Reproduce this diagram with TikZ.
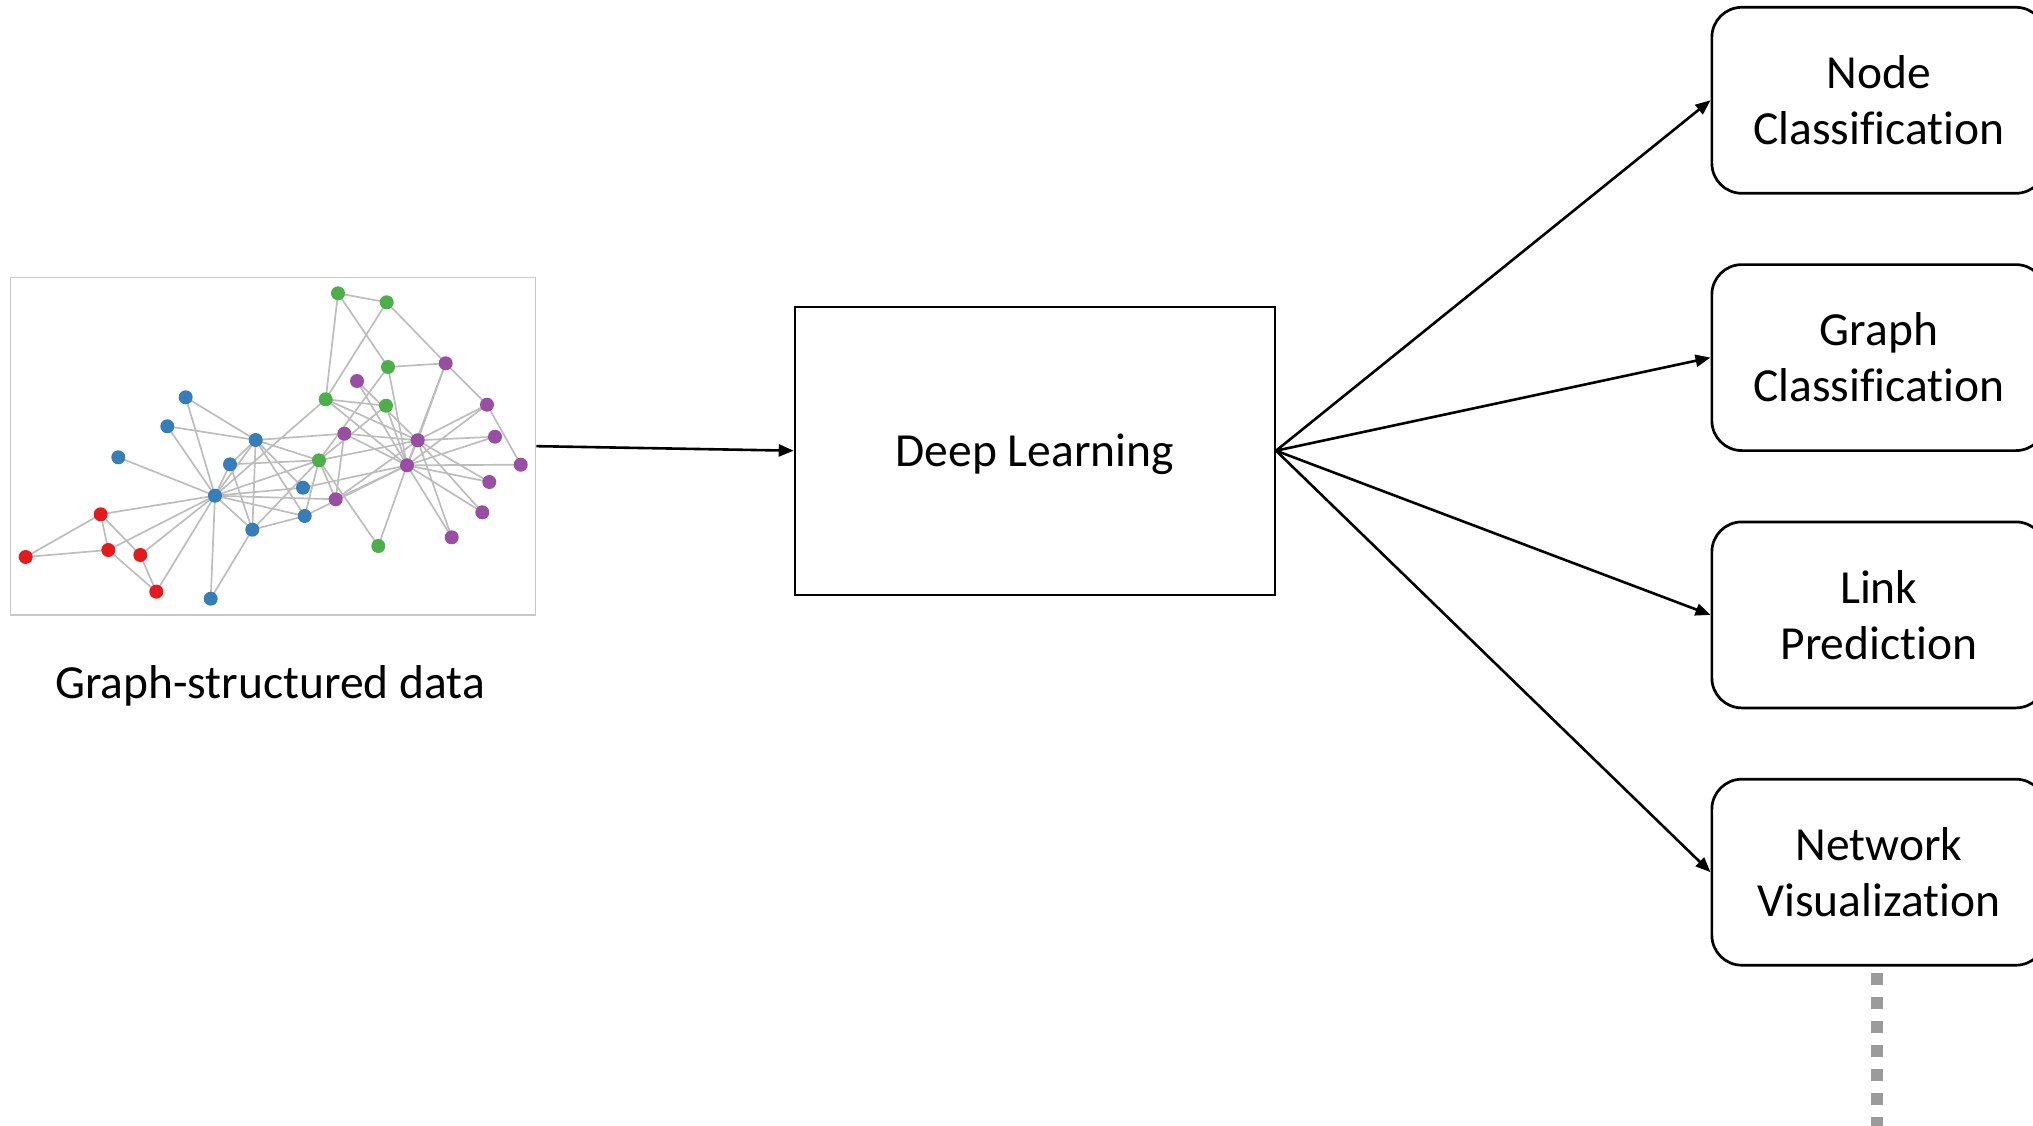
\documentclass[tikz,border=0pt]{standalone}
\usepackage{fontspec}
\setmainfont{Carlito}[Ligatures=NoCommon]
\usetikzlibrary{arrows.meta}
\definecolor{cblue}{HTML}{377EB8}
\definecolor{cred}{HTML}{E41A1C}
\definecolor{cgreen}{HTML}{4DAF4A}
\definecolor{cpurple}{HTML}{984EA3}
\definecolor{edgegray}{HTML}{BDBDBD}
\definecolor{framegray}{HTML}{C8C8C8}
\definecolor{dotgray}{HTML}{9B9B9B}
\tikzset{
  vtx/.style={circle, inner sep=0pt, minimum size=14pt},
  vb/.style={vtx, fill=cblue},
  vr/.style={vtx, fill=cred},
  vg/.style={vtx, fill=cgreen},
  vp/.style={vtx, fill=cpurple},
  gedge/.style={draw=edgegray, line width=1.7pt},
  bigtext/.style={font=\fontsize{47.5}{56}\selectfont},
  dlbox/.style={draw, line width=2.3pt, minimum width=480pt, minimum height=288pt,
                text height=31pt, text depth=0pt, bigtext},
  taskbox/.style={draw, line width=2.7pt, rounded corners=30pt, minimum width=334pt,
                  minimum height=186pt, align=center, bigtext},
  flow/.style={line width=2.6pt, -{Triangle[length=15pt,width=12pt]}},
}
\begin{document}
\begin{tikzpicture}[x=1pt, y=-1pt]
\useasboundingbox (0,0) rectangle (2033,1126);

% frame around the karate club graph
\node[draw=framegray, line width=1.3pt, minimum width=525pt, minimum height=337.7pt, inner sep=0pt]
  (graphbox) at (273.2,446.15) {};

% vertex positions
\coordinate (p0) at (215,495.7);
\coordinate (p1) at (255.7,440);
\coordinate (p2) at (319,460.3);
\coordinate (p3) at (252.3,529.7);
\coordinate (p4) at (140.3,555);
\coordinate (p5) at (108.3,550);
\coordinate (p6) at (100.7,514.3);
\coordinate (p7) at (230,464.3);
\coordinate (p8) at (335.7,499.3);
\coordinate (p9) at (378.3,546);
\coordinate (p10) at (156.3,591.7);
\coordinate (p11) at (118.3,457.3);
\coordinate (p12) at (210.7,598.7);
\coordinate (p13) at (304.7,516);
\coordinate (p14) at (357,381);
\coordinate (p15) at (495,436.7);
\coordinate (p16) at (25.7,557);
\coordinate (p17) at (185.7,397.3);
\coordinate (p18) at (489.3,482);
\coordinate (p19) at (303,487.7);
\coordinate (p20) at (482.3,512.3);
\coordinate (p21) at (167.3,426.3);
\coordinate (p22) at (451.7,537.3);
\coordinate (p23) at (445.7,363.3);
\coordinate (p24) at (338,293.3);
\coordinate (p25) at (386.7,302.3);
\coordinate (p26) at (520.7,464.7);
\coordinate (p27) at (388,367);
\coordinate (p28) at (386,405.7);
\coordinate (p29) at (487,404.7);
\coordinate (p30) at (344.3,433.7);
\coordinate (p31) at (325.7,399.3);
\coordinate (p32) at (417.7,440.3);
\coordinate (p33) at (407,465.3);

% edges
\foreach \a/\b in {0/1,0/2,0/3,0/4,0/5,0/6,0/7,0/8,0/10,0/11,0/12,0/13,0/17,0/19,0/21,0/31,
  1/2,1/3,1/7,1/13,1/17,1/19,1/21,1/30,
  2/3,2/7,2/8,2/9,2/13,2/27,2/28,2/32,
  3/7,3/12,3/13,
  4/6,4/10,5/6,5/10,5/16,6/16,
  8/30,8/32,8/33,9/33,13/33,14/32,14/33,15/32,15/33,18/32,18/33,19/33,
  20/32,20/33,22/32,22/33,
  23/25,23/27,23/29,23/32,23/33,24/25,24/27,24/31,25/31,26/29,26/33,27/33,
  28/31,28/33,29/32,29/33,30/32,30/33,31/32,31/33,32/33}
  \draw[gedge] (p\a) -- (p\b);

% vertices, coloured by community
\foreach \i in {0,1,3,7,11,12,13,17,19,21} \node[vb] (v\i) at (p\i) {};
\foreach \i in {4,5,6,10,16} \node[vr] (v\i) at (p\i) {};
\foreach \i in {2,9,24,25,27,28,31} \node[vg] (v\i) at (p\i) {};
\foreach \i in {8,14,15,18,20,22,23,26,29,30,32,33} \node[vp] (v\i) at (p\i) {};

\node[bigtext] (glabel) at (270,686) {Graph-structured data};

% model
\node[dlbox] (dl) at (1034.85,450.7) {Deep Learning};

% downstream tasks
\node[taskbox] (nodecls) at (1878.85,100.3) {Node\\Classification};
\node[taskbox] (graphcls) at (1878.85,357.6) {Graph\\Classification};
\node[taskbox] (linkpred) at (1878.85,614.9) {Link\\Prediction};
\node[taskbox] (netviz) at (1878.85,872.2) {Network\\Visualization};

\draw[flow] (graphbox.east) -- (dl.west);
\draw[flow] (dl.east) -- (nodecls.west);
\draw[flow] (dl.east) -- (graphcls.west);
\draw[flow] (dl.east) -- (linkpred.west);
\draw[flow] (dl.east) -- (netviz.west);

% continuation below the last task
\coordinate (vizend) at (1877,1140);
\draw[dotgray, line width=12pt, dash pattern=on 12pt off 12pt]
  ([xshift=-1.85pt,yshift=-6.7pt]netviz.south) -- (vizend);
\end{tikzpicture}
\end{document}
